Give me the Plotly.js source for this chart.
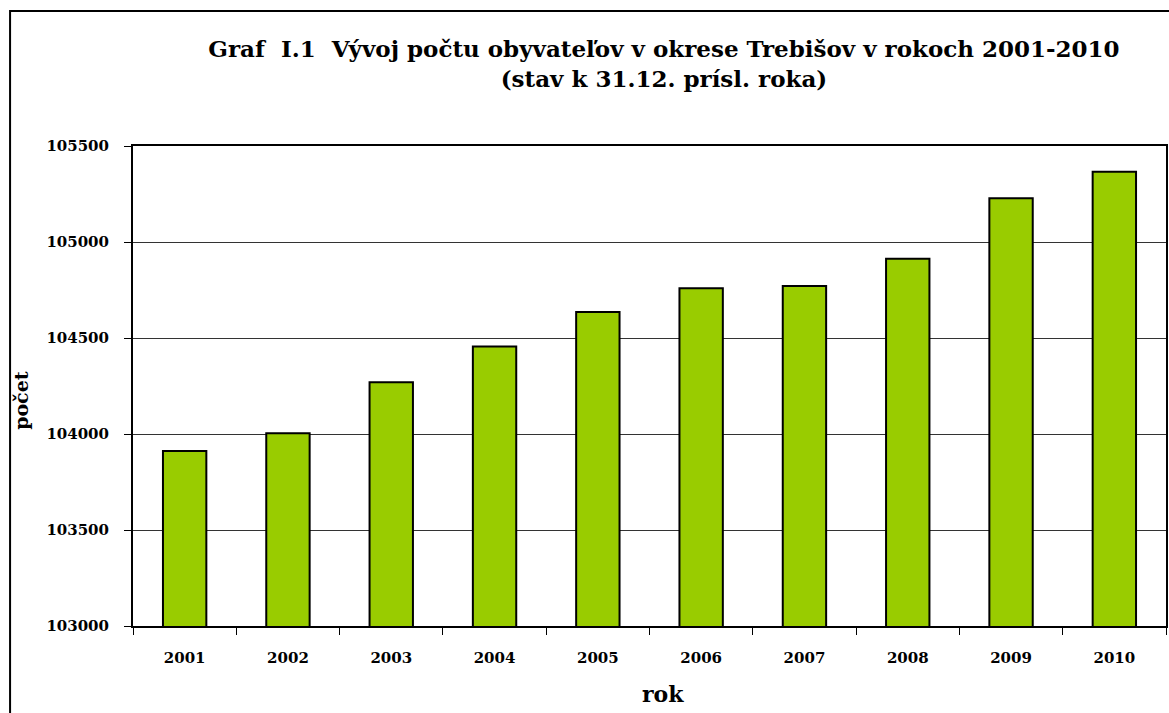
<!DOCTYPE html>
<html>
<head>
<meta charset="utf-8">
<script src="https://cdn.plot.ly/plotly-3.0.1.min.js"></script>
<style>html,body{margin:0;padding:0;background:#fff;}#chart{width:1169px;height:713px;}</style>
</head>
<body>
<div id="chart"></div>
<script>
const years = ['2001','2002','2003','2004','2005','2006','2007','2008','2009','2010'];
const population = [103911, 104004, 104270, 104456, 104635, 104759, 104771, 104913, 105228, 105366];
const yTicks = [103000, 103500, 104000, 104500, 105000, 105500];
const titleText = 'Graf  I.1  Vývoj počtu obyvateľov v okrese Trebišov v rokoch 2001-2010<br>(stav k 31.12. prísl. roka)';
const xTitle = 'rok';
const yTitle = 'počet';

const serif = 'DejaVu Serif, Liberation Serif, serif';

const trace = {
  type: 'bar',
  x: years,
  y: population,
  marker: {color: '#99CC00', line: {color: '#000000', width: 2}},
  hoverinfo: 'x+y'
};

const layout = {
  width: 1169,
  height: 713,
  margin: {l: 133, r: 3, t: 146, b: 87},
  paper_bgcolor: '#ffffff',
  plot_bgcolor: '#ffffff',
  bargap: 0.58,
  showlegend: false,
  title: {
    text: titleText,
    font: {family: serif, size: 23, color: '#000', weight: 'bold'},
    xref: 'container', x: 0.568, xanchor: 'center',
    yref: 'container', y: 0.92, yanchor: 'top'
  },
  xaxis: {
    type: 'category',
    showline: true, linecolor: '#000', linewidth: 2, mirror: true,
    ticks: 'outside', ticklen: 7, tickwidth: 1, tickcolor: '#000',
    tickson: 'boundaries',
    ticklabelstandoff: 17,
    tickfont: {family: serif, size: 15, color: '#000', weight: 'bold'},
    showgrid: false
  },
  yaxis: {
    range: [103000, 105500],
    tickvals: yTicks,
    ticktext: yTicks.map(String),
    showline: true, linecolor: '#000', linewidth: 2, mirror: true,
    ticks: 'outside', ticklen: 7, tickwidth: 1, tickcolor: '#000',
    ticklabelstandoff: 12,
    tickfont: {family: serif, size: 15, color: '#000', weight: 'bold'},
    showgrid: true, gridcolor: '#333', gridwidth: 1,
    zeroline: false
  },
  annotations: [
    {text: xTitle, xref: 'paper', yref: 'paper', x: 0.513, y: -0.142, xanchor: 'center', yanchor: 'middle',
     showarrow: false, font: {family: serif, size: 22, color: '#000', weight: 'bold'}},
    {text: yTitle, xref: 'paper', yref: 'paper', x: -0.108, y: 0.47, xanchor: 'center', yanchor: 'middle',
     textangle: -90, showarrow: false, font: {family: serif, size: 19, color: '#000', weight: 'bold'}}
  ],
  shapes: [
    {type: 'rect', xref: 'paper', yref: 'paper', x0: -0.119, x1: 1.01, y0: -0.2, y1: 1.281,
     line: {color: '#000', width: 2}, fillcolor: 'rgba(0,0,0,0)', layer: 'below'}
  ]
};

Plotly.newPlot('chart', [trace], layout, {displayModeBar: false, staticPlot: true});
</script>
</body>
</html>
